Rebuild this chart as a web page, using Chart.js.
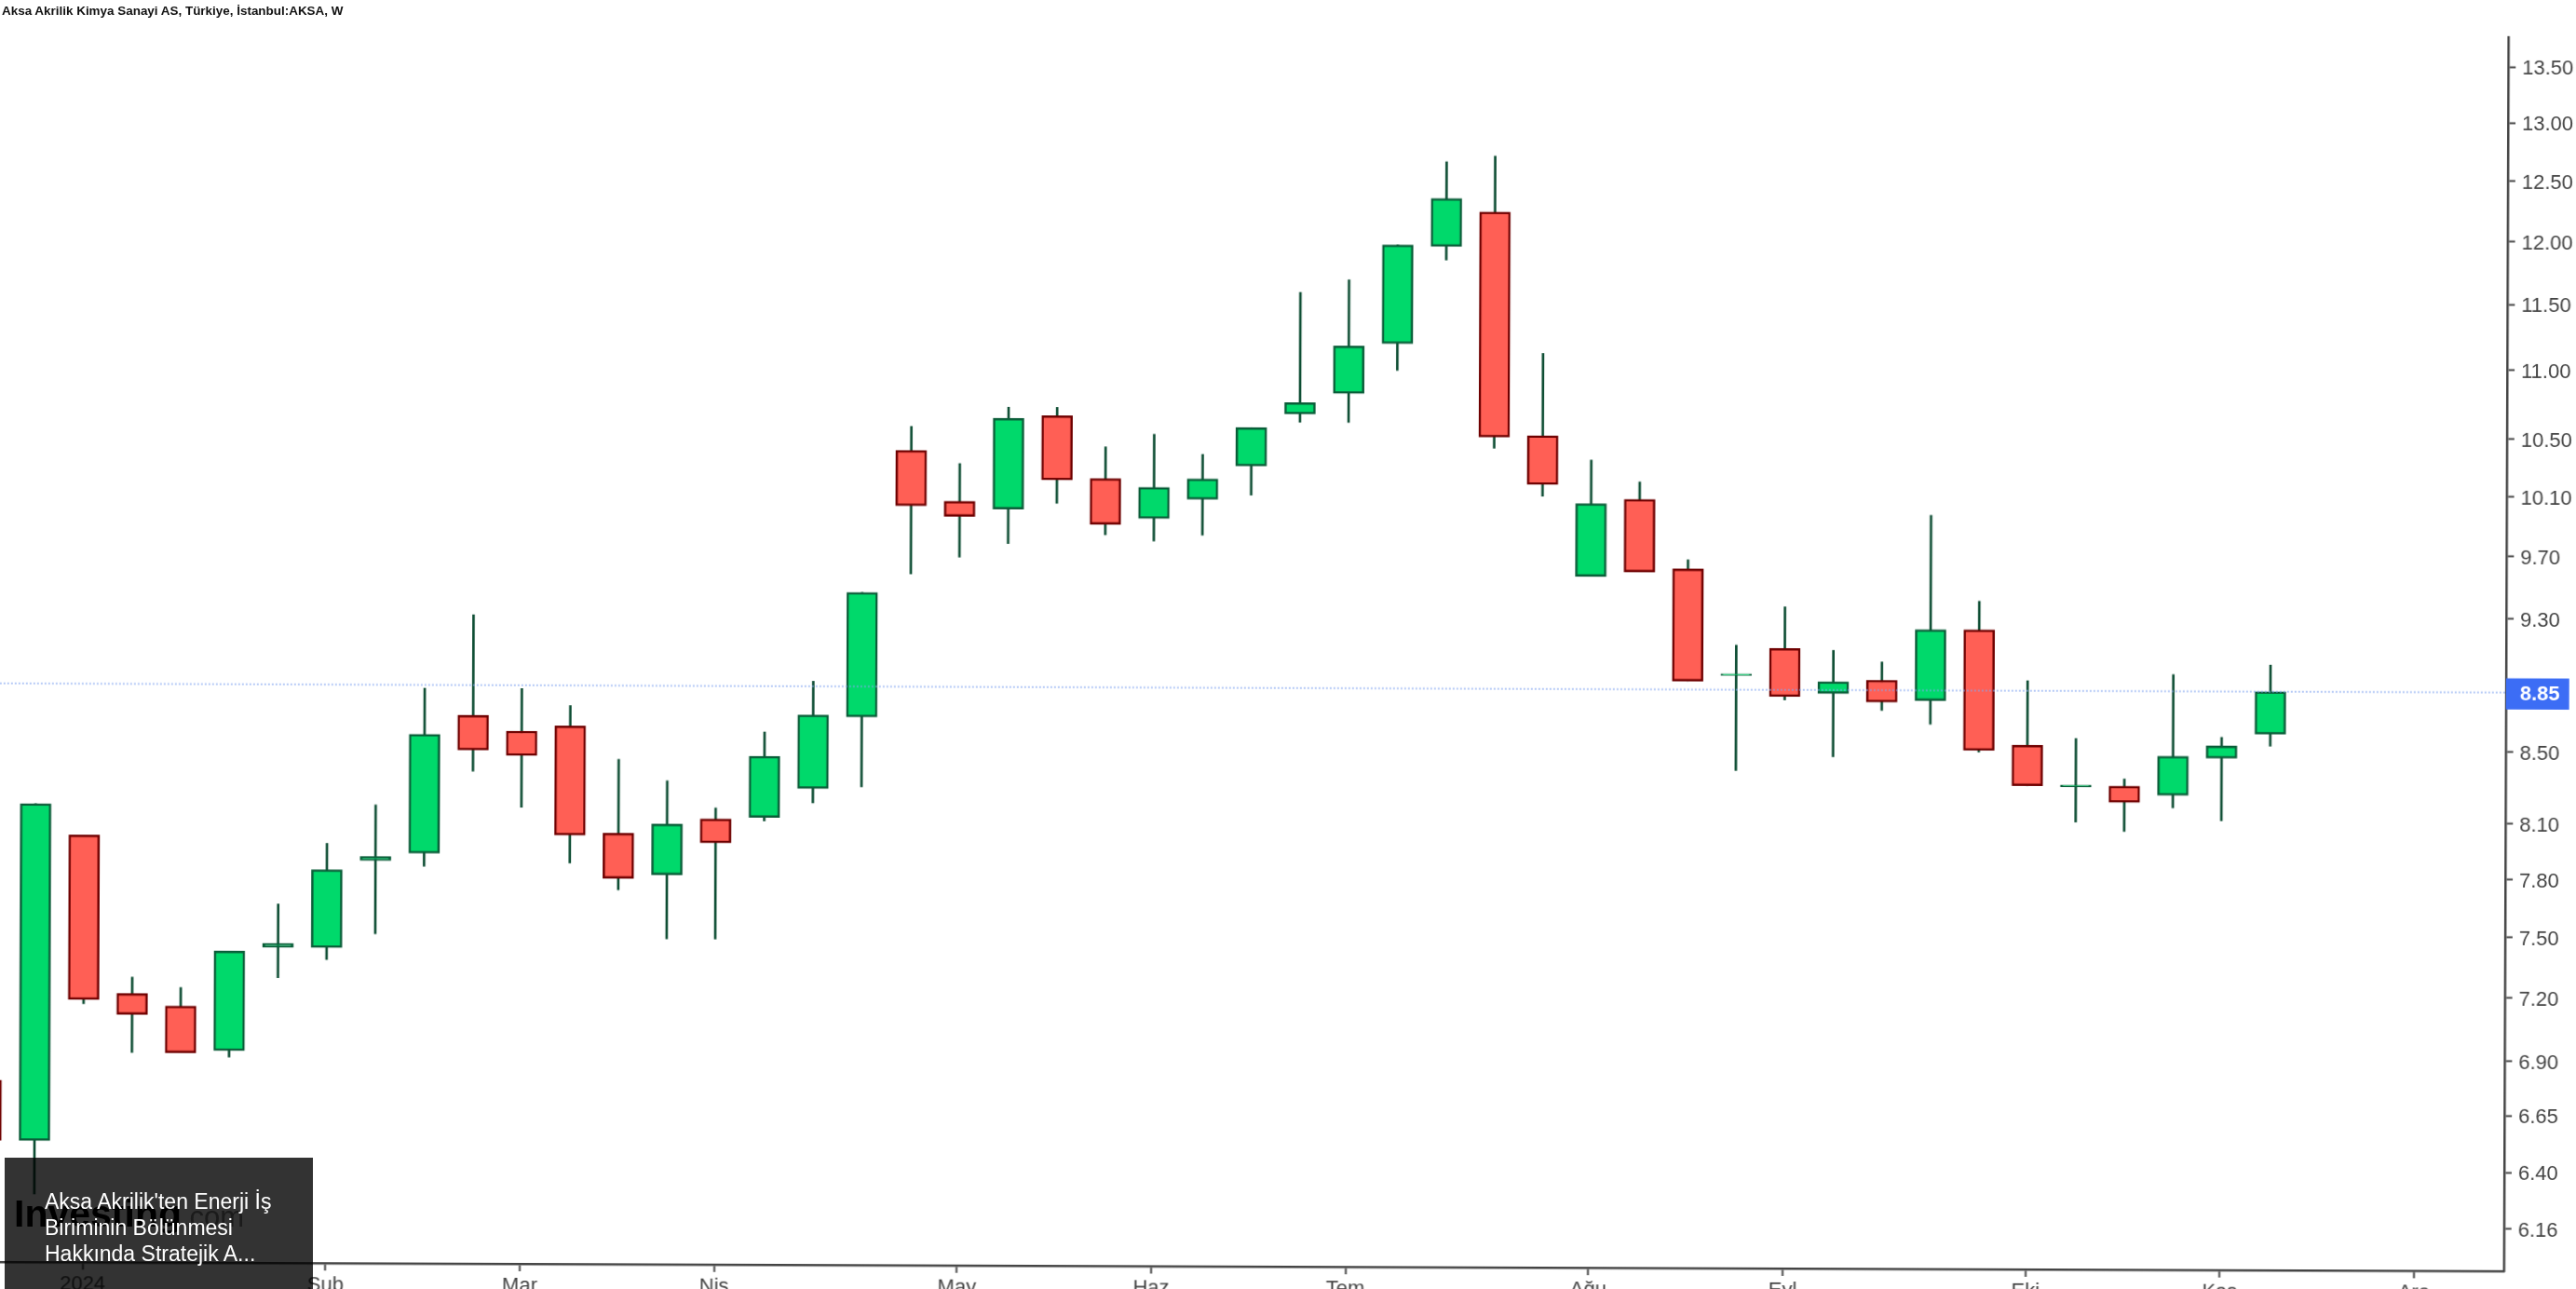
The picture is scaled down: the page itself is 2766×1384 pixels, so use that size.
<!DOCTYPE html>
<html>
<head>
<meta charset="utf-8">
<title>AKSA</title>
<script src="https://cdn.jsdelivr.net/npm/chart.js@4"></script>
<style>
html,body{margin:0;padding:0;width:2766px;height:1384px;overflow:hidden;background:#fff;font-family:"Liberation Sans",Arial,sans-serif}
#tilt{position:absolute;left:0;top:0;width:2766px;height:1384px;transform-origin:1383px 692px;transform:rotate(0.21deg)}
#c{position:absolute;left:-20px;top:0}
#title{position:absolute;left:2px;top:4px;font:bold 13.45px "Liberation Sans",Arial,sans-serif;color:#111;white-space:nowrap}
#logo{position:absolute;left:15px;top:1280px;white-space:nowrap;color:#000;font:bold 41px "Liberation Sans",Arial,sans-serif;letter-spacing:0}
#logo span{font-weight:normal;font-size:31px;color:#888}
#news{position:absolute;left:5px;top:1243px;width:331px;height:141px;background:rgba(0,0,0,.8);color:#fff;box-sizing:border-box;padding:33px 0 0 43px;font:23px/28px "Liberation Sans",Arial,sans-serif}
</style>
</head>
<body>
<div id="tilt"><canvas id="c" width="2806" height="1440"></canvas></div>
<div id="title">Aksa Akrilik Kimya Sanayi AS, Türkiye, İstanbul:AKSA, W</div>
<div id="logo">Investing<span>.com</span></div>
<div id="news">Aksa Akrilik'ten Enerji İş<br>Biriminin Bölünmesi<br>Hakkında Stratejik A...</div>
<script>
const weeks = [-1,0,1,2,3,4,5,6,7,8,9,10,11,12,13,14,15,16,17,18,19,20,21,22,23,24,25,26,27,28,29,30,31,32,33,34,35,36,37,38,39,40,41,42,43,44,45,46];
const open  = [6.77,6.50,7.99,7.18,7.12,6.91,7.41,7.41,7.86,7.90,8.67,8.58,8.61,8.01,7.79,8.09,8.10,8.26,8.67,10.38,10.03,9.98,10.63,10.19,9.92,10.05,10.28,10.65,10.80,11.17,11.93,12.21,10.50,9.55,10.06,9.60,8.935,9.10,8.83,8.91,8.79,9.22,8.53,8.295,8.30,8.25,8.46,8.60];
const close = [6.50,8.16,7.15,7.08,6.90,7.39,7.43,7.81,7.88,8.56,8.47,8.44,8.00,7.77,8.06,7.96,8.44,8.68,9.43,10.00,9.93,10.61,10.18,9.88,10.13,10.19,10.55,10.73,11.15,11.94,12.32,10.49,10.16,10.03,9.58,8.90,8.945,8.81,8.90,8.78,9.22,8.50,8.30,8.305,8.21,8.47,8.53,8.85];
const high  = [6.77,8.16,7.99,7.26,7.21,7.39,7.63,7.95,8.16,8.83,9.28,8.83,8.73,8.42,8.30,8.15,8.58,8.88,9.43,10.55,10.29,10.69,10.69,10.41,10.50,10.36,10.55,11.56,11.66,11.94,12.63,12.68,11.10,10.33,10.18,9.66,9.12,9.36,9.09,9.02,9.96,9.40,8.91,8.57,8.34,8.95,8.58,9.01];
const low   = [6.50,6.27,7.13,6.90,6.90,6.88,7.26,7.35,7.48,7.83,8.35,8.15,7.85,7.71,7.46,7.46,8.08,8.18,8.27,9.55,9.66,9.75,10.02,9.81,9.77,9.81,10.08,10.59,10.59,10.97,11.82,10.41,10.08,9.55,9.58,8.90,8.38,8.79,8.46,8.73,8.65,8.49,8.30,8.10,8.05,8.18,8.11,8.53];
const priceTicks = [13.5,13,12.5,12,11.5,11,10.5,10.1,9.7,9.3,8.85,8.5,8.1,7.8,7.5,7.2,6.9,6.65,6.4,6.16];
const monthWeeks = [1,6,10,14,19,23,27,32,36,41,45,49];
const monthLabels = ["2024","Sub","Mar","Nis","May","Haz","Tem","Ağu","Eyl","Eki","Kas","Ara"];
const lastPrice = 8.85;
const xMin = -1.131, xMax = 50.85, yMin = 5.988, yMax = 13.776;

const UP = "#00d96b", DOWN = "#ff5f55", UP_EDGE = "#0a5c38", DOWN_EDGE = "#6e0000", WICK = "#0d4d33";
const isUp = i => close[i] >= open[i];

const labelNudge = {
  id: "labelNudge",
  beforeDraw(chart) {
    if (chart.$nudged) return;
    chart.$nudged = true;
    for (const item of chart.scales.y.getLabelItems()) item.options.translation[1] += 2;
  }
};

new Chart(document.getElementById("c"), {
  type: "bar",
  plugins: [labelNudge],
  data: { datasets: [
    { label: "Fiyat çizgisi", type: "line", data: [{x:xMin,y:lastPrice},{x:xMax,y:lastPrice}],
      borderColor: "rgba(130,165,240,.6)", borderWidth: 2, borderDash: [2,2], pointRadius: 0, order: 0 },
    { label: "Gövde", data: weeks.map((w,i)=>({x:w,y:[open[i],close[i]]})),
      backgroundColor: weeks.map((w,i)=>isUp(i)?UP:DOWN),
      borderColor: weeks.map((w,i)=>isUp(i)?UP_EDGE:DOWN_EDGE),
      borderWidth: 2.5, borderSkipped: false, barThickness: 33, grouped: false, order: 1 },
    { label: "Fitil", data: weeks.map((w,i)=>({x:w,y:[low[i],high[i]]})),
      backgroundColor: WICK, borderWidth: 0, barThickness: 2, grouped: false, order: 2 }
  ]},
  options: {
    responsive: false, animation: false, devicePixelRatio: 1,
    layout: { padding: { top: 35, left: 0, right: 0, bottom: 0 }, autoPadding: false },
    plugins: { legend: { display: false }, title: { display: false }, tooltip: { enabled: false } },
    scales: {
      x: {
        type: "linear", min: xMin, max: xMax, offset: false, position: "bottom",
        afterBuildTicks: s => { s.ticks = monthWeeks.map(v => ({ value: v })); },
        afterFit: s => { s.height = 80; },
        grid: { display: true, offset: false, drawOnChartArea: false, drawTicks: true, tickLength: 8, tickWidth: 2, tickColor: "#444" },
        border: { display: true, color: "#444", width: 2.5 },
        ticks: { autoSkip: false, maxRotation: 0, minRotation: 0, padding: 3, color: "#444",
          font: { family: "Liberation Sans", size: 22 },
          callback: v => monthLabels[monthWeeks.indexOf(v)] ?? "" }
      },
      y: {
        type: "logarithmic", min: yMin, max: yMax, position: "right",
        afterBuildTicks: s => { s.ticks = priceTicks.map(v => ({ value: v })); },
        afterFit: s => { s.width = 95; },
        grid: { display: true, drawOnChartArea: false, drawTicks: true, tickLength: 8, tickWidth: 2, tickColor: "#444" },
        border: { display: true, color: "#444", width: 2.5 },
        ticks: { autoSkip: false, padding: 7, align: "center", crossAlign: "near",
          color: c => (c.tick && c.tick.value === lastPrice) ? "#fff" : "#444",
          font: c => ({ family: "Liberation Sans", size: 22, weight: (c.tick && c.tick.value === lastPrice) ? "bold" : "normal" }),
          showLabelBackdrop: c => !!(c.tick && c.tick.value === lastPrice),
          backdropColor: "#3c6df5",
          backdropPadding: { left: 16, right: 10, top: 4, bottom: 3 },
          callback: v => Number(v).toFixed(2) }
      }
    }
  }
});
</script>
</body>
</html>
